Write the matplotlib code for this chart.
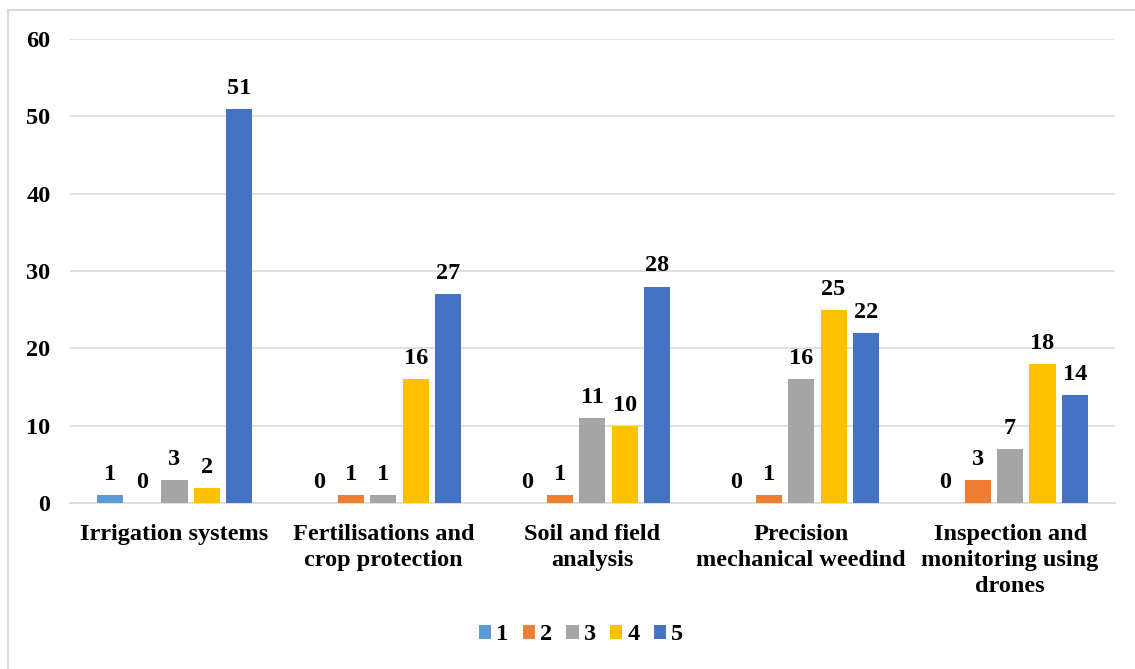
import numpy as np
import matplotlib.pyplot as plt
from matplotlib.patches import Rectangle

plt.rcParams['font.family'] = ['Liberation Serif', 'DejaVu Serif']
plt.rcParams['font.weight'] = 'bold'

categories = ["Irrigation systems", "Fertilisations and\ncrop protection",
              "Soil and field\nanalysis", "Precision\nmechanical weedind",
              "Inspection and\nmonitoring using\ndrones"]
series_names = ["1", "2", "3", "4", "5"]
s1 = [1, 0, 0, 0, 0]
s2 = [0, 1, 1, 1, 3]
s3 = [3, 1, 11, 16, 7]
s4 = [2, 16, 10, 25, 18]
s5 = [51, 27, 28, 22, 14]
colors = ["#5B9BD5", "#ED7D31", "#A5A5A5", "#FFC000", "#4472C4"]

fs = 17.5

fig = plt.figure(figsize=(11.35, 6.69), dpi=100)
ax = fig.add_axes([0.0617, 0.248, 0.9203, 0.6937])

x = np.arange(len(categories))
pitch = 0.155
width = 0.125
for i, vals in enumerate([s1, s2, s3, s4, s5]):
    pos = x + (i - 2) * pitch
    ax.bar(pos, vals, width, color=colors[i], label=series_names[i], zorder=3)
    for p, v in zip(pos, vals):
        ax.text(p, v + 1.3, str(v), ha='center', va='bottom', fontsize=fs, fontweight='bold')

ax.set_xlim(-0.5, len(categories) - 0.5)
ax.set_ylim(0, 60)
ax.set_yticks(range(0, 61, 10))
ax.yaxis.grid(True, color='#D9D9D9', linewidth=1.2, zorder=0)
for s in ['top', 'right', 'left']:
    ax.spines[s].set_visible(False)
ax.spines['bottom'].set_color('#D9D9D9')
ax.spines['bottom'].set_linewidth(1.2)
ax.tick_params(length=0, labelsize=fs)
ax.tick_params(axis='y', pad=14)
ax.set_xticks(x)
ax.set_xticklabels(categories, fontweight='bold', linespacing=1.3)
ax.tick_params(axis='x', pad=15)

fig.legend(loc='center', bbox_to_anchor=(0.512, 0.051), ncol=5, frameon=False,
           fontsize=fs, handlelength=0.5, handleheight=0.5, handletextpad=0.2,
           columnspacing=0.6)

fig.patches.append(Rectangle((0.007, -0.1), 1.1, 1.085, transform=fig.transFigure,
                             fill=False, edgecolor='#D9D9D9', linewidth=1.5))

fig.savefig("out.png", dpi=100)
